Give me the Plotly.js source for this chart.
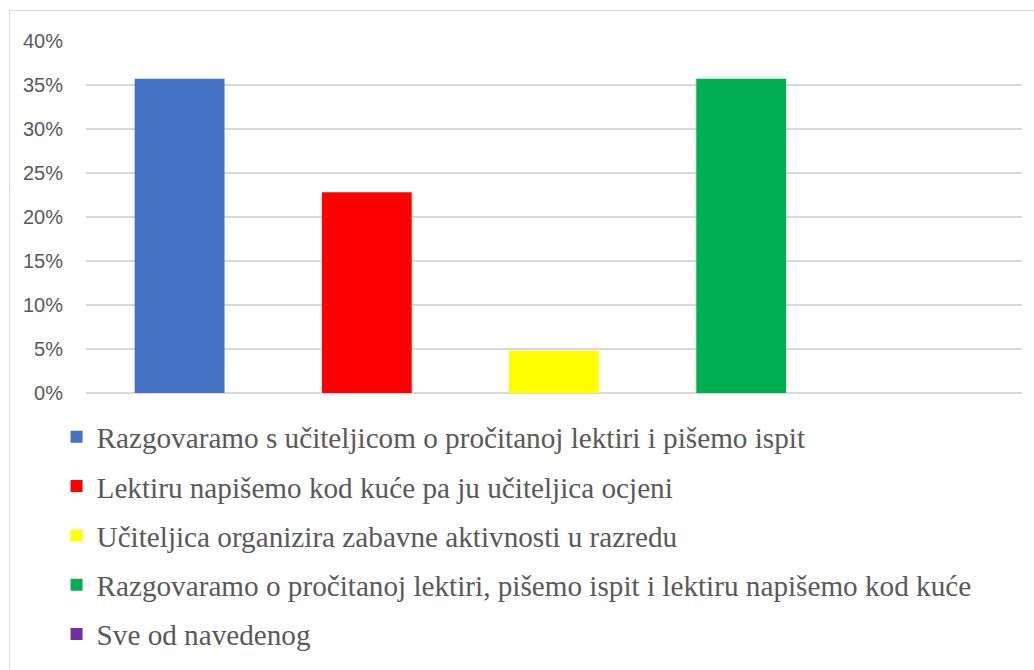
<!DOCTYPE html>
<html>
<head>
<meta charset="utf-8">
<script src="https://cdn.plot.ly/plotly-3.0.1.min.js"></script>
<style>
  body { margin: 0; background: #fff; }
  #wrap { position: relative; width: 1034px; height: 670px; overflow: hidden; }
  #frame { position: absolute; left: 9px; top: 10px; width: 1100px; height: 800px;
           border: 1px solid #d9d9d9; box-sizing: border-box; pointer-events: none; }
  #chart { width: 1034px; height: 670px; }
</style>
</head>
<body>
<div id="wrap">
  <div id="chart"></div>
  <div id="frame"></div>
</div>
<script>
// Answer options (legend labels) and their shares in percent
const labels = [
  'Razgovaramo s učiteljicom o pročitanoj lektiri i pišemo ispit',
  'Lektiru napišemo kod kuće pa ju učiteljica ocjeni',
  'Učiteljica organizira zabavne aktivnosti u razredu',
  'Razgovaramo o pročitanoj lektiri, pišemo ispit i lektiru napišemo kod kuće',
  'Sve od navedenog'
];
const values = [35.7, 22.8, 4.8, 35.7, 0];
const barColors = ['#4472C4', '#FF0000', '#FFFF00', '#00B050', '#7030A0'];
const yTicks = [0, 5, 10, 15, 20, 25, 30, 35, 40];

// One trace per answer so each gets its own legend entry
const traces = labels.map((label, i) => ({
  type: 'bar',
  x: [i],
  y: [values[i]],
  name: label,
  legendgroup: 'g' + i,
  width: 0.48,
  marker: { color: barColors[i] },
  hoverinfo: 'name+y'
}));

const layout = {
  width: 1034,
  height: 670,
  paper_bgcolor: '#FFFFFF',
  plot_bgcolor: '#FFFFFF',
  // keep the plot area fixed; the legend sits in the bottom margin
  margin: { t: 41, r: 12, b: 277, l: 86, autoexpand: false },
  barmode: 'overlay',
  showlegend: true,
  xaxis: {
    range: [-0.5, 4.5],
    showticklabels: false,
    showgrid: false,
    zeroline: false,
    showline: false,
    ticks: ''
  },
  yaxis: {
    range: [0, 40],
    tickvals: yTicks,
    ticktext: yTicks.map(v => v + '%'),
    gridcolor: '#d9d9d9',
    gridwidth: 1.5,
    zeroline: true,
    zerolinecolor: '#d9d9d9',
    zerolinewidth: 1.5,
    ticks: '',
    ticklabelstandoff: 22,
    tickfont: { family: 'Liberation Sans, Arial, sans-serif', size: 20, color: '#595959' }
  },
  legend: {
    orientation: 'v',
    xref: 'container',
    yref: 'container',
    x: 0.0547,
    y: 0.386,
    xanchor: 'left',
    yanchor: 'top',
    traceorder: 'grouped',
    tracegroupgap: 8.3,
    bgcolor: 'rgba(0,0,0,0)',
    font: { family: 'Liberation Serif, Times New Roman, serif', size: 29.2, color: '#595959' }
  }
};

Plotly.newPlot('chart', traces, layout, { displayModeBar: false, responsive: false });
</script>
</body>
</html>
